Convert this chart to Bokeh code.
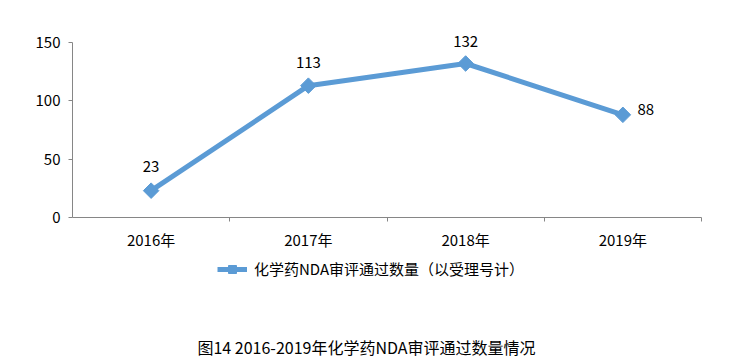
import math
from bokeh.plotting import figure
from bokeh.models import (ColumnDataSource, LabelSet, Label, Legend, LegendItem,
                          FixedTicker, Range1d)
from bokeh.core.properties import value
from bokeh.embed import file_html
from bokeh.resources import INLINE

years = ["2016年", "2017年", "2018年", "2019年"]
values = [23, 113, 132, 88]
series_name = "化学药NDA审评通过数量（以受理号计）"
caption = "图14 2016-2019年化学药NDA审评通过数量情况"
y_ticks = [0, 50, 100, 150]
y_max = 150

FONT = "Noto Sans CJK SC"
BLUE = "#5B9BD5"
AXIS = "#868686"

# layout (pixels)
W, H = 752, 363
PL, PR, PT, PB = 72, 701, 42, 217   # plot area edges
n = len(years)
xpx = (PR - PL) / n
ypx = (PB - PT) / y_max
x0 = -0.5 - PL / xpx
x1 = n - 0.5 + (W - PR) / xpx
y0 = -(H - PB) / ypx
y1 = y_max + PT / ypx

xs = list(range(n))
src = ColumnDataSource(dict(
    x=xs, y=values, label=[str(v) for v in values],
    xo=[0, 0, 0, 23], yo=[24, 23, 22, 5],
))

p = figure(width=W, height=H, output_backend="svg", toolbar_location=None,
           x_range=Range1d(x0, x1), y_range=Range1d(y0, y1),
           min_border=0, min_border_left=0, min_border_right=0,
           min_border_top=0, min_border_bottom=0)
p.outline_line_color = None
p.xgrid.grid_line_color = None
p.ygrid.grid_line_color = None

line = p.line("x", "y", source=src, line_color=BLUE, line_width=5, line_join="round")
pts = p.scatter("x", "y", source=src, marker="square", size=11, angle=math.pi / 4,
                fill_color=BLUE, line_color=BLUE)

# y axis
p.yaxis.fixed_location = -0.5
p.yaxis.bounds = (0, y_max)
p.yaxis.ticker = FixedTicker(ticks=y_ticks)
p.yaxis.axis_line_color = AXIS
p.yaxis.major_tick_line_color = AXIS
p.yaxis.major_tick_out = 4
p.yaxis.major_tick_in = 0
p.yaxis.minor_tick_line_color = None
p.yaxis.major_label_standoff = 8
p.yaxis.major_label_text_font = FONT
p.yaxis.major_label_text_font_size = "15px"
p.yaxis.major_label_text_color = "#000000"

# x axis
p.xaxis.fixed_location = 0
p.xaxis.bounds = (-0.5, n - 0.5)
p.xaxis.ticker = FixedTicker(ticks=xs, minor_ticks=[i + 0.5 for i in xs])
p.xaxis.major_label_overrides = {i: y for i, y in zip(xs, years)}
p.xaxis.axis_line_color = AXIS
p.xaxis.major_tick_line_color = None
p.xaxis.minor_tick_line_color = AXIS
p.xaxis.minor_tick_out = 4
p.xaxis.minor_tick_in = 0
p.xaxis.major_label_standoff = 5
p.xaxis.major_label_text_font = FONT
p.xaxis.major_label_text_font_size = "15px"
p.xaxis.major_label_text_color = "#000000"

labels = LabelSet(x="x", y="y", text="label", source=src, x_offset="xo", y_offset="yo",
                  text_align="center", text_baseline="middle", text_font=value(FONT),
                  text_font_size=value("15px"), text_color="#000000")
p.add_layout(labels)

legend = Legend(items=[LegendItem(label=series_name, renderers=[line, pts])],
                location=(217, H - 268 - 11), orientation="horizontal",
                glyph_width=30, label_standoff=7, padding=0, margin=0,
                border_line_color=None, background_fill_alpha=0,
                label_text_font=FONT, label_text_font_size="15px",
                label_text_color="#000000")
p.add_layout(legend)

p.add_layout(Label(x=366, y=H - 346, x_units="screen", y_units="screen", text=caption,
                   text_align="center", text_baseline="middle", text_font=FONT,
                   text_font_size="16px", text_color="#000000"))

open("out.html", "w").write(file_html(p, INLINE))
